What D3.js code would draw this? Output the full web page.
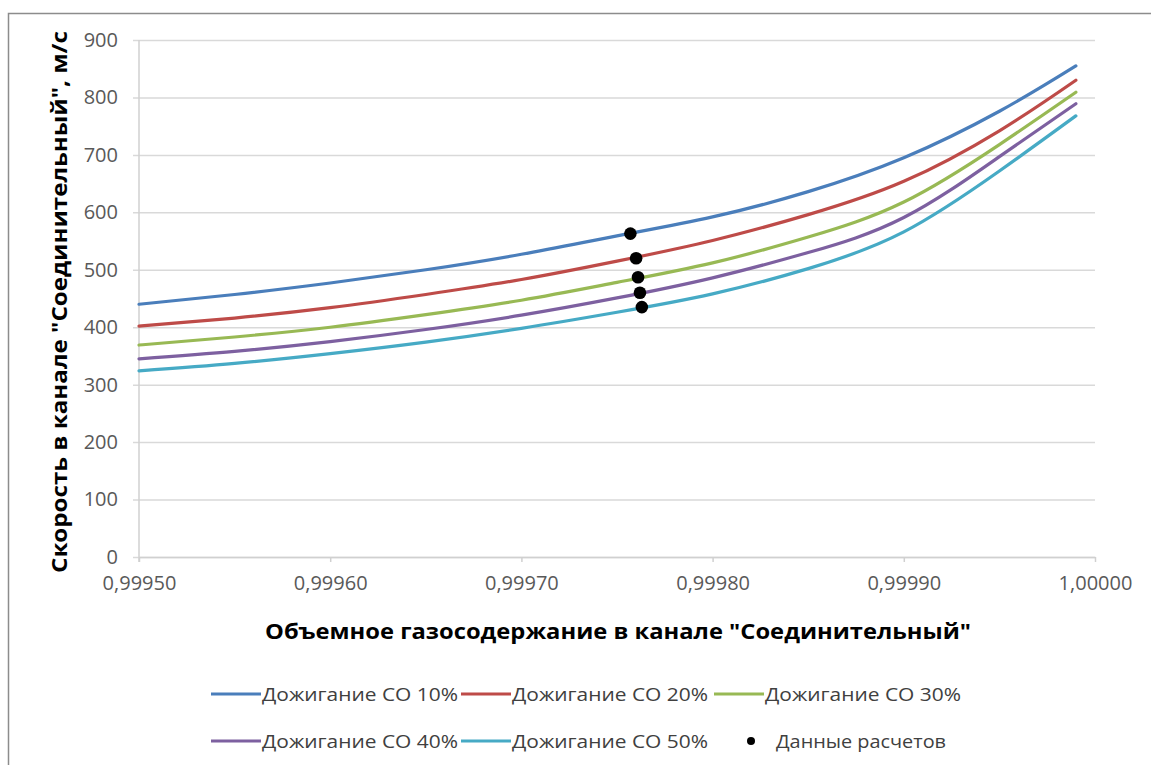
<!DOCTYPE html>
<html>
<head>
<meta charset="utf-8">
<script src="https://cdn.jsdelivr.net/npm/d3@7/dist/d3.min.js"></script>
<style>
  html, body { margin: 0; padding: 0; background: #fff; }
  svg { display: block; }
  text { font-family: "Open Sans", "Noto Sans", "DejaVu Sans", sans-serif; }
</style>
</head>
<body>
<svg id="chart" width="1151" height="765"></svg>
<script>
// Объемное газосодержание (x) and скорость, м/с (y) for each burn-off fraction
const gasFraction = [0.99950, 0.99955, 0.99960, 0.99965, 0.99970, 0.99975, 0.99980, 0.99985, 0.99990, 0.99995, 0.99999];
const co10 = [440, 457, 477, 500, 527, 559, 592, 636, 695, 776, 855];
const co20 = [402, 416, 434, 457, 483, 515, 551, 596, 654, 742, 830];
const co30 = [369, 383, 400, 422, 447, 478, 512, 557, 618, 718, 809];
const co40 = [345, 358, 375, 396, 421, 451, 486, 530, 591, 697, 789];
const co50 = [324, 337, 354, 374, 398, 426, 458, 502, 566, 672, 768];

// Calculated points ("Данные расчетов")
const calcX = [0.999757, 0.999760, 0.999761, 0.999762, 0.999763];
const calcY = [563, 520, 487, 460, 435];

const seriesNames = ["Дожигание СО 10%", "Дожигание СО 20%", "Дожигание СО 30%", "Дожигание СО 40%", "Дожигание СО 50%"];
const seriesValues = [co10, co20, co30, co40, co50];
const seriesColors = ["#4a7ebb", "#be4b48", "#98b954", "#7d60a0", "#46aac5"];
const calcName = "Данные расчетов";

const xTicks = [0.99950, 0.99960, 0.99970, 0.99980, 0.99990, 1.00000];
const yTicks = [0, 100, 200, 300, 400, 500, 600, 700, 800, 900];

const xTitle = "Объемное газосодержание в канале \"Соединительный\"";
const yTitle = "Скорость в канале \"Соединительный\", м/с";

const svg = d3.select("#chart");

// outer chart frame
svg.append("rect")
  .attr("x", 8.5).attr("y", 13.5)
  .attr("width", 1200).attr("height", 800)
  .attr("fill", "none").attr("stroke", "#8c8c8c").attr("stroke-width", 1.5);

const x = d3.scaleLinear().domain([0.99950, 1.00000]).range([139, 1095]);
const y = d3.scaleLinear().domain([0, 900]).range([557, 40]);

const ru = d3.formatLocale({ decimal: ",", thousands: " ", grouping: [3], currency: ["", " руб."] });
const fmtX = ru.format(".5f");

// horizontal gridlines + y axis labels
const gy = svg.append("g").attr("transform", `translate(${x.range()[0]},0)`)
  .call(d3.axisLeft(y).tickValues(yTicks).tickSize(0).tickPadding(21).tickFormat(d3.format("d")));
gy.select(".domain").remove();
gy.selectAll(".tick line")
  .attr("x1", -6).attr("x2", x.range()[1] - x.range()[0])
  .attr("stroke", "#d9d9d9").attr("stroke-width", 1.5);
gy.selectAll(".tick text")
  .attr("font-size", 20).attr("fill", "#595959")
  .style("font-family", "'Open Sans', sans-serif");

// y axis line
svg.append("line")
  .attr("x1", x.range()[0]).attr("x2", x.range()[0])
  .attr("y1", y(900)).attr("y2", y(0) + 5)
  .attr("stroke", "#d0d0d0").attr("stroke-width", 1.5);

// x axis
const gx = svg.append("g").attr("transform", `translate(0,${y(0)})`)
  .call(d3.axisBottom(x).tickValues(xTicks).tickSize(5).tickSizeOuter(0).tickPadding(14)
    .tickFormat(d => fmtX(d)));
gx.select(".domain").attr("stroke", "#d0d0d0").attr("stroke-width", 1.5);
gx.selectAll(".tick line").attr("stroke", "#d0d0d0").attr("stroke-width", 1.5);
gx.selectAll(".tick text")
  .attr("font-size", 20).attr("fill", "#595959")
  .style("font-family", "'Open Sans', sans-serif");

// series lines (smooth natural spline through the computed points)
const line = d3.line()
  .x(d => x(d[0]))
  .y(d => y(d[1]))
  .curve(d3.curveNatural);

seriesValues.forEach((vals, i) => {
  svg.append("path")
    .datum(gasFraction.map((g, j) => [g, vals[j]]))
    .attr("d", line)
    .attr("fill", "none")
    .attr("stroke", seriesColors[i])
    .attr("stroke-width", 3.2)
    .attr("stroke-linecap", "round")
    .attr("stroke-linejoin", "round");
});

// calculated points
svg.append("g").selectAll("circle")
  .data(calcX.map((cx, i) => [cx, calcY[i]]))
  .join("circle")
  .attr("cx", d => x(d[0]))
  .attr("cy", d => y(d[1]))
  .attr("r", 6.3)
  .attr("fill", "#000");

// axis titles
svg.append("text")
  .attr("x", 618).attr("y", 631)
  .attr("text-anchor", "middle").attr("dominant-baseline", "central")
  .attr("font-size", 21).attr("font-weight", "bold").attr("fill", "#000")
  .attr("textLength", 706).attr("lengthAdjust", "spacingAndGlyphs")
  .text(xTitle);

svg.append("text")
  .attr("transform", "translate(59,302) rotate(-90)")
  .attr("text-anchor", "middle").attr("dominant-baseline", "central")
  .attr("font-size", 21).attr("font-weight", "bold").attr("fill", "#000")
  .attr("textLength", 542).attr("lengthAdjust", "spacingAndGlyphs")
  .text(yTitle);

// legend
const legendItems = seriesNames.map((n, i) => ({ name: n, color: seriesColors[i], type: "line" }))
  .concat([{ name: calcName, color: "#000", type: "dot" }]);
const colX = [211, 461, 714];
const rowY = [694, 741];

legendItems.forEach((it, i) => {
  const row = Math.floor(i / 3), col = i % 3;
  const g = svg.append("g").attr("transform", `translate(${colX[col]},${rowY[row]})`);
  if (it.type === "line") {
    g.append("line").attr("x1", 0).attr("x2", 50).attr("y1", 0).attr("y2", 0)
      .attr("stroke", it.color).attr("stroke-width", 3.2);
    g.append("text").attr("x", 51).attr("y", 0)
      .attr("dominant-baseline", "central")
      .attr("font-size", 19).attr("fill", "#404040")
      .attr("textLength", 196).attr("lengthAdjust", "spacingAndGlyphs")
      .text(it.name);
  } else {
    g.append("circle").attr("cx", 37).attr("cy", 0).attr("r", 4).attr("fill", it.color);
    g.append("text").attr("x", 62).attr("y", 0)
      .attr("dominant-baseline", "central")
      .attr("font-size", 19).attr("fill", "#404040")
      .attr("textLength", 170).attr("lengthAdjust", "spacingAndGlyphs")
      .text(it.name);
  }
});
</script>
</body>
</html>
